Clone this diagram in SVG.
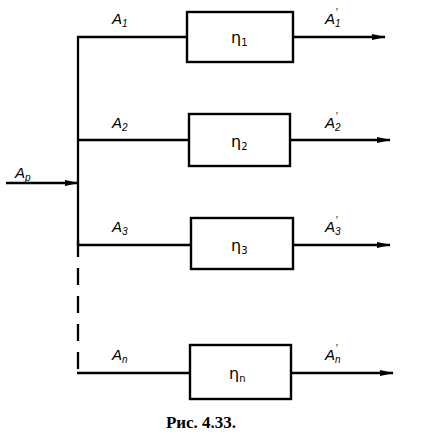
<svg xmlns="http://www.w3.org/2000/svg" width="421" height="440" viewBox="0 0 421 440">
<style>
.ln{stroke:#000;stroke-width:2.3;fill:none}
.bx{stroke:#000;stroke-width:2.4;fill:#fff}
.lb{font-family:"Liberation Sans",Arial,sans-serif;font-style:italic;font-size:15px;fill:#000}
.sb{font-size:10px}
.eta{font-family:"DejaVu Sans","Liberation Sans",sans-serif;font-size:16px;fill:#000}
.cap{font-family:"Liberation Serif","Times New Roman",serif;font-weight:bold;font-size:17px;fill:#000}
</style>
<defs>
<marker id="ar" markerWidth="14" markerHeight="8" refX="13" refY="4" orient="auto" markerUnits="userSpaceOnUse">
<path d="M0,1 L14,4 L0,7 Z" fill="#000"/>
</marker>
</defs>
<rect width="421" height="440" fill="#fff"/>
<g id="connectors">
<path class="ln" d="M78,36 V245"/>
<path class="ln" d="M78,240 V374" stroke-dasharray="17,11"/>
<path class="ln" d="M6,183 H78" marker-end="url(#ar)"/>
<path class="ln" d="M77,37 H187"/>
<path class="ln" d="M78,140 H189"/>
<path class="ln" d="M78,245 H191"/>
<path class="ln" d="M77,373 H190"/>
<path class="ln" d="M293,37 H385" marker-end="url(#ar)"/>
<path class="ln" d="M290,140 H390" marker-end="url(#ar)"/>
<path class="ln" d="M293,245 H390" marker-end="url(#ar)"/>
<path class="ln" d="M291,373 H393" marker-end="url(#ar)"/>
</g>
<g id="input-label"><text class="lb" x="15" y="178">A<tspan class="sb" dy="3">p</tspan></text></g>
<g id="node1">
<rect class="bx" x="187" y="12" width="106" height="50"/>
<text class="eta" x="231" y="43">η<tspan class="sb" dy="3">1</tspan></text>
<text class="lb" x="112" y="24">A<tspan class="sb" dy="3">1</tspan></text>
<text class="lb" x="325" y="24">A<tspan class="sb" dy="3">1</tspan><tspan class="sb" dx="-5" dy="-11">′</tspan></text>
</g>
<g id="node2">
<rect class="bx" x="189" y="114" width="101" height="52"/>
<text class="eta" x="231" y="147">η<tspan class="sb" dy="3">2</tspan></text>
<text class="lb" x="112" y="128">A<tspan class="sb" dy="3">2</tspan></text>
<text class="lb" x="325" y="128">A<tspan class="sb" dy="3">2</tspan><tspan class="sb" dx="-5" dy="-11">′</tspan></text>
</g>
<g id="node3">
<rect class="bx" x="191" y="218" width="102" height="51"/>
<text class="eta" x="231" y="251">η<tspan class="sb" dy="3">3</tspan></text>
<text class="lb" x="112" y="232">A<tspan class="sb" dy="3">3</tspan></text>
<text class="lb" x="325" y="232">A<tspan class="sb" dy="3">3</tspan><tspan class="sb" dx="-5" dy="-11">′</tspan></text>
</g>
<g id="noden">
<rect class="bx" x="190" y="345" width="101" height="54"/>
<text class="eta" x="229" y="379">η<tspan class="sb" dy="3">n</tspan></text>
<text class="lb" x="112" y="360">A<tspan class="sb" dy="3">n</tspan></text>
<text class="lb" x="325" y="360">A<tspan class="sb" dy="3">n</tspan><tspan class="sb" dx="-5" dy="-11">′</tspan></text>
</g>
<text class="cap" x="201" y="428" text-anchor="middle">Рис. 4.33.</text>
</svg>
